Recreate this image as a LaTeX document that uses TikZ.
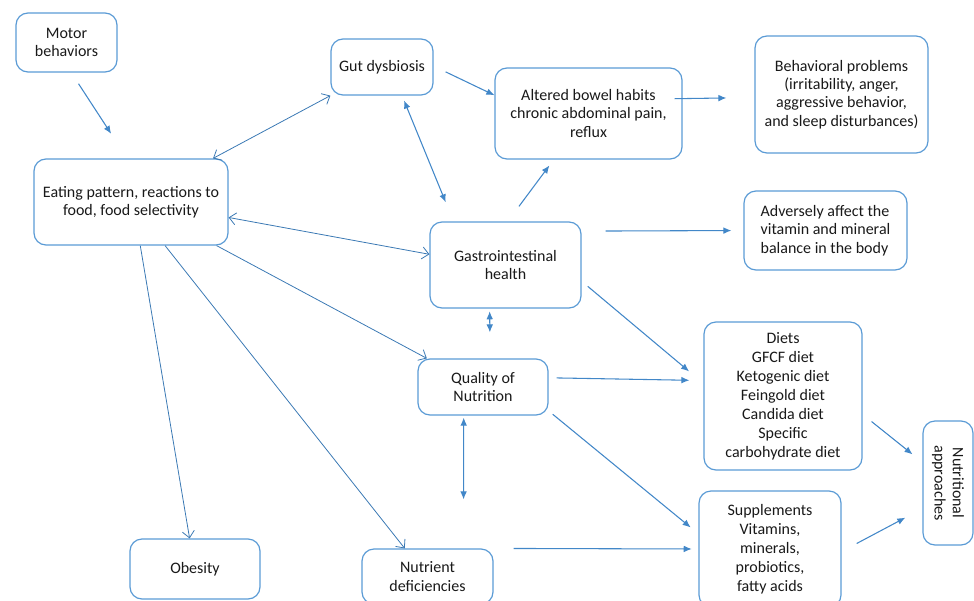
\documentclass[tikz,border=0pt]{standalone}
\usepackage{fontspec}
\setmainfont{Carlito}
\usetikzlibrary{arrows.meta}
\definecolor{boxblue}{RGB}{91,155,213}
\definecolor{lineblue}{RGB}{66,135,200}
\tikzset{
	box/.style={draw=boxblue, line width=0.9pt, rounded corners=9pt, align=center, inner sep=2pt, text=black!90, font=\fontsize{12}{13.8}\selectfont},
	tallbox/.style={box, font=\fontsize{12}{14.3}\selectfont},
	fillarrow/.style={draw=lineblue, line width=0.8pt, -{Latex[length=6pt,width=5pt]}},
	fillboth/.style={draw=lineblue, line width=0.8pt, {Latex[length=6pt,width=5pt]}-{Latex[length=6pt,width=5pt]}},
	openarrow/.style={draw=lineblue!90!black, line width=0.6pt, -{Straight Barb[length=5pt,width=9pt]}},
	openboth/.style={draw=lineblue!90!black, line width=0.6pt, {Straight Barb[length=5pt,width=9pt]}-{Straight Barb[length=5pt,width=9pt]}},
}
\begin{document}
\begin{tikzpicture}[
		x={(0.75pt,0pt)},
		y={(0pt,-0.75pt)},
	]
		\useasboundingbox (0,0) rectangle (974,600);
		\clip (0,0) rectangle (974,600);
		
		\node[box, minimum width=75.75pt, minimum height=44.25pt] (motor) at (66.5,42.5) {Motor\\behaviors};
		\node[box, minimum width=76.5pt, minimum height=42pt] (gut) at (382,67) {Gut dysbiosis};
		\node[box, minimum width=140.25pt, minimum height=68.25pt] (bowel) at (588.5,113.5) {Altered bowel habits\\chronic abdominal pain,\\reflux};
		\node[box, minimum width=129.75pt, minimum height=87.75pt] (behav) at (841.5,94.5) {Behavioral problems\\(irritability, anger,\\aggressive behavior,\\and sleep disturbances)};
		\node[box, minimum width=145.5pt, minimum height=64.5pt] (eating) at (131,202) {Eating pattern, reactions to\\food, food selectivity};
		\node[box, minimum width=113.25pt, minimum height=64.5pt] (gastro) at (505.5,265) {Gastrointestinal\\health};
		\node[box, align=left, minimum width=122.25pt, minimum height=59.25pt] (adverse) at (825.5,230.5) {Adversely affect the\\vitamin and mineral\\balance in the body};
		\node[box, minimum width=97.5pt, minimum height=42pt] (quality) at (483,387) {Quality of\\Nutrition};
		\node[tallbox, minimum width=118.5pt, minimum height=111pt] (diets) at (783,396) {Diets\\GFCF diet\\Ketogenic diet\\Feingold diet\\Candida diet\\Specific\\carbohydrate diet};
		\node[box, rotate=-90, minimum width=93pt, minimum height=37.5pt] (approach) at (948,483) {Nutritional\\approaches};
		\node[box, minimum width=97.5pt, minimum height=45pt] (obesity) at (195,569) {Obesity};
		\node[box, minimum width=98.25pt, minimum height=41.25pt] (deficiency) at (427.5,576.5) {Nutrient\\deficiencies};
		\node[tallbox, minimum width=106.5pt, minimum height=87pt] (supplements) at (770,549) {Supplements\\Vitamins,\\minerals,\\probiotics,\\fatty acids};
		
		% one-way links with filled tips: from/to/shorten start/shorten end
		\foreach \a/\b/\s/\e in {motor.-81/eating.95/10/22, gut.1/bowel.169/10/0, bowel.9/behav.182/-6/21,
			gastro.87/bowel.-127/14/5.5, gastro.24/adverse.180/18/9, gastro.-12/diets.171/6/14,
			quality.8/diets.169/6/10.5, quality.-20/supplements.168/4/7.5, deficiency.north east/supplements.west/15/5,
			diets.-13/approach.231/8.6/9.5, supplements.-2/approach.315/12.8/14.5}{
			\draw[fillarrow, shorten <=\s pt, shorten >=\e pt] (\a) -- (\b);
		}
		
		% two-way links with filled tips
		\foreach \a/\b/\s/\e in {gut.-55/gastro.140/4/15.5, gastro.250/quality.76/2/19.5, quality.236/deficiency.38/1.5/36.75}{
			\draw[fillboth, shorten <=\s pt, shorten >=\e pt] (\a) -- (\b);
		}
		
		% links out of the eating pattern
		\draw[openboth] (eating.28) -- (gut.south west);
		\draw[openboth] (eating.-9) -- (gastro.172);
		\foreach \b/\t in {-27/quality.153, -78/obesity.100, -52/deficiency.129}{
			\draw[openarrow] (eating.\b) -- (\t);
		}
	\end{tikzpicture}
\end{document}
